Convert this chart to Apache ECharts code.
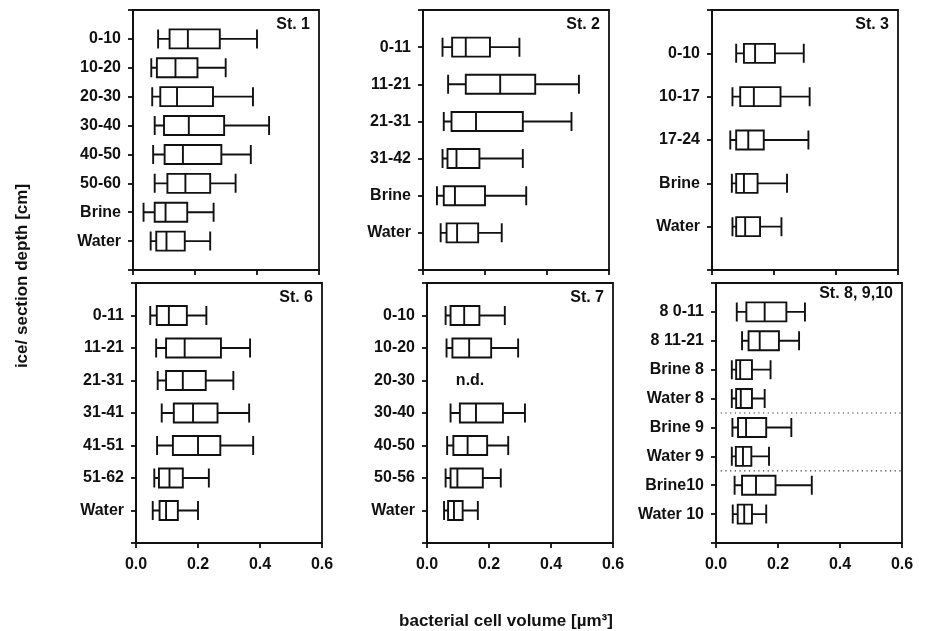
<!DOCTYPE html>
<html><head><meta charset="utf-8">
<script src="https://cdn.jsdelivr.net/npm/echarts@6/dist/echarts.min.js"></script>
<style>html,body{margin:0;padding:0;background:#fff}#c{width:926px;height:631px}</style>
</head><body><div id="c"></div>
<script>
// ---- data: [min, Q1, median, Q3, max] in µm³ ----
const st1Cats = ['0-10','10-20','20-30','30-40','40-50','50-60','Brine','Water'];
const st1Vals = [
  [0.081,0.118,0.177,0.280,0.400],
  [0.059,0.077,0.137,0.208,0.299],
  [0.062,0.088,0.142,0.258,0.387],
  [0.070,0.100,0.180,0.294,0.439],
  [0.065,0.102,0.161,0.285,0.380],
  [0.070,0.111,0.169,0.249,0.331],
  [0.034,0.070,0.105,0.175,0.260],
  [0.057,0.075,0.108,0.167,0.249]
];
const st2Cats = ['0-11','11-21','21-31','31-42','Brine','Water'];
const st2Vals = [
  [0.063,0.094,0.138,0.216,0.311],
  [0.081,0.138,0.249,0.362,0.503],
  [0.067,0.092,0.171,0.322,0.479],
  [0.063,0.079,0.108,0.182,0.322],
  [0.045,0.067,0.103,0.200,0.333],
  [0.057,0.076,0.110,0.178,0.254]
];
const st3Cats = ['0-10','10-17','17-24','Brine','Water'];
const st3Vals = [
  [0.078,0.103,0.139,0.203,0.296],
  [0.066,0.091,0.135,0.221,0.315],
  [0.059,0.078,0.117,0.167,0.311],
  [0.064,0.078,0.103,0.147,0.242],
  [0.066,0.078,0.107,0.155,0.224]
];
const st6Cats = ['0-11','11-21','21-31','31-41','41-51','51-62','Water'];
const st6Vals = [
  [0.046,0.067,0.106,0.164,0.227],
  [0.065,0.097,0.157,0.274,0.368],
  [0.070,0.097,0.151,0.225,0.314],
  [0.083,0.122,0.184,0.263,0.365],
  [0.068,0.119,0.200,0.272,0.378],
  [0.059,0.074,0.108,0.151,0.235],
  [0.054,0.076,0.097,0.135,0.200]
];
const st7Cats = ['0-10','10-20','20-30','30-40','40-50','50-56','Water'];
const st7Vals = [
  [0.060,0.076,0.120,0.169,0.251],
  [0.063,0.082,0.136,0.207,0.294],
  null, // n.d.
  [0.076,0.106,0.158,0.245,0.316],
  [0.065,0.085,0.131,0.194,0.262],
  [0.060,0.076,0.098,0.180,0.238],
  [0.055,0.068,0.087,0.115,0.164]
];
const st7NdCat = '20-30';
const st7NdX = 0.139;
const st8Cats = ['8 0-11','8 11-21','Brine 8','Water 8','Brine 9','Water 9','Brine10','Water 10'];
const st8Vals = [
  [0.067,0.098,0.157,0.227,0.287],
  [0.084,0.105,0.141,0.203,0.268],
  [0.051,0.065,0.078,0.116,0.176],
  [0.051,0.065,0.080,0.116,0.157],
  [0.053,0.071,0.097,0.162,0.243],
  [0.051,0.064,0.087,0.114,0.171],
  [0.060,0.084,0.129,0.192,0.309],
  [0.054,0.070,0.091,0.116,0.162]
];
const st8Separators = ['Water 8','Water 9']; // dotted line below these rows
const xTicks = [0, 0.2, 0.4, 0.6];
const panelTitles = ['St. 1','St. 2','St. 3','St. 6','St. 7','St. 8, 9,10'];
const yTitle = 'ice/ section depth [cm]';
const xTitle = 'bacterial cell volume [µm³]';

// ---- build chart ----
const panels = [
  {cats: st1Cats, vals: st1Vals},
  {cats: st2Cats, vals: st2Vals},
  {cats: st3Cats, vals: st3Vals},
  {cats: st6Cats, vals: st6Vals},
  {cats: st7Cats, vals: st7Vals},
  {cats: st8Cats, vals: st8Vals}
];
const FONT = '"Liberation Sans", Arial, Helvetica, sans-serif';
const INK = '#111';
const lefts = [[133, 423, 712], [136, 427, 716]];
const tops = [10, 283];
const W = 186, H = 260;
const blank = ['-','-','-','-','-'];

const grid = [], xAxis = [], yAxis = [], series = [], graphic = [];
panels.forEach((p, i) => {
  const row = Math.floor(i / 3), col = i % 3;
  const left = lefts[row][col], top = tops[row];
  grid.push({left, top, width: W, height: H, show: true, borderColor: INK, borderWidth: 1.8,
    backgroundColor: 'transparent', containLabel: false});
  xAxis.push({gridIndex: i, type: 'value', min: xTicks[0], max: xTicks[xTicks.length - 1],
    interval: xTicks[1] - xTicks[0],
    axisLine: {show: true, onZero: false, lineStyle: {color: INK, width: 2}},
    axisTick: {show: true, length: 5, lineStyle: {color: INK, width: 1.8}},
    axisLabel: {show: row === 1, margin: 14, fontSize: 16, fontWeight: 'bold', color: INK,
      fontFamily: FONT, formatter: v => v.toFixed(1)},
    splitLine: {show: false}});
  yAxis.push({gridIndex: i, type: 'category', boundaryGap: false, inverse: true,
    data: [''].concat(p.cats, ['']),
    axisLine: {show: true, onZero: false, lineStyle: {color: INK, width: 2}},
    axisTick: {show: true, interval: 0, length: 5, lineStyle: {color: INK, width: 1.8}},
    axisLabel: {interval: 0, margin: 12, fontSize: 16, fontWeight: 'bold', color: INK, fontFamily: FONT},
    splitLine: {show: false}});
  series.push({type: 'boxplot', xAxisIndex: i, yAxisIndex: i,
    data: [blank].concat(p.vals.map(v => v ? v : blank), [blank]),
    boxWidth: [19, 19],
    itemStyle: {color: 'transparent', borderColor: INK, borderWidth: 1.9},
    emphasis: {disabled: true}, silent: true});
  graphic.push({type: 'text', x: left + W - 9, y: top + (i === 5 ? 3 : 7),
    style: {text: panelTitles[i], align: 'right', textAlign: 'right', verticalAlign: 'top',
      textVerticalAlign: 'top', fill: INK, font: 'bold 16px ' + FONT}});
});

// dotted separators in St. 8,9,10 via hidden value axis
yAxis.push({gridIndex: 5, type: 'value', show: false, inverse: true, min: 0, max: st8Cats.length + 1,
  splitLine: {show: false}});
const sepAxis = yAxis.length - 1;
st8Separators.forEach(name => {
  const pos = st8Cats.indexOf(name) + 1 + 0.5;
  series.push({type: 'line', xAxisIndex: 5, yAxisIndex: sepAxis, symbol: 'none', silent: true,
    data: [[xTicks[0], pos], [xTicks[xTicks.length - 1], pos]],
    lineStyle: {type: [1.2, 3.5], color: '#333', width: 1.2}});
});

graphic.push({type: 'text', x: 22, y: 276, rotation: Math.PI / 2,
  style: {text: yTitle, align: 'center', textAlign: 'center', verticalAlign: 'middle',
    textVerticalAlign: 'middle', fill: INK, font: 'bold 17px ' + FONT}});
graphic.push({type: 'text', x: 506, y: 621,
  style: {text: xTitle, align: 'center', textAlign: 'center', verticalAlign: 'middle',
    textVerticalAlign: 'middle', fill: INK, font: 'bold 17px ' + FONT}});

const chart = echarts.init(document.getElementById('c'), null, {renderer: 'canvas'});
chart.setOption({animation: false, backgroundColor: '#fff', grid, xAxis, yAxis, series, graphic});

// n.d. label placed through the St. 7 axes
const ndPt = chart.convertToPixel({xAxisIndex: 4, yAxisIndex: 4}, [st7NdX, st7NdCat]);
graphic.push({type: 'text', x: ndPt[0], y: ndPt[1],
  style: {text: 'n.d.', align: 'center', textAlign: 'center', verticalAlign: 'middle',
    textVerticalAlign: 'middle', fill: INK, font: 'bold 16px ' + FONT}});
chart.setOption({graphic});
</script></body></html>
